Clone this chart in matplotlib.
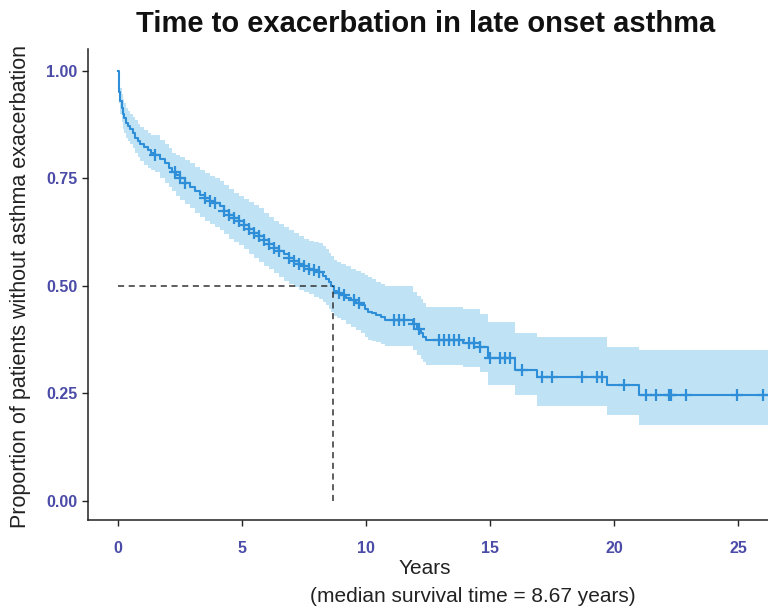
import numpy as np
import matplotlib
matplotlib.use("Agg")
import matplotlib.pyplot as plt

plt.rcParams['font.family'] = ['Liberation Sans', 'DejaVu Sans']

# Kaplan-Meier step curve (time in years, survival proportion) with 95% CI
times = [0, 0.03, 0.06, 0.1, 0.15, 0.2, 0.27, 0.35, 0.42, 0.5, 0.6, 0.7, 0.8, 0.9,
         1.05, 1.2, 1.35, 1.5, 1.7, 1.9, 2.05, 2.2, 2.35, 2.5, 2.7, 2.9, 3.1, 3.3,
         3.5, 3.7, 3.9, 4.1, 4.3, 4.5, 4.7, 4.9, 5.1, 5.3, 5.5, 5.7, 5.9, 6.1, 6.3,
         6.5, 6.7, 6.9, 7.1, 7.3, 7.5, 7.7, 7.9, 8.1, 8.25, 8.4, 8.5, 8.6, 8.7, 8.85,
         9.0, 9.2, 9.4, 9.6, 9.8, 9.95, 10.1, 10.25, 10.4, 10.6, 10.75, 11.9, 12.05,
         12.2, 12.3, 12.4, 13.9, 14.6, 14.9, 16.0, 16.9, 19.7, 21.0]
surv = [1.0, 0.97, 0.95, 0.93, 0.915, 0.90, 0.89, 0.88, 0.872, 0.865, 0.855, 0.845,
        0.838, 0.83, 0.822, 0.815, 0.81, 0.805, 0.795, 0.785, 0.775, 0.765, 0.758,
        0.75, 0.74, 0.73, 0.721, 0.712, 0.705, 0.698, 0.692, 0.685, 0.675, 0.665,
        0.658, 0.65, 0.641, 0.632, 0.624, 0.615, 0.607, 0.598, 0.589, 0.58, 0.573,
        0.565, 0.558, 0.55, 0.545, 0.54, 0.537, 0.533, 0.524, 0.515, 0.508, 0.50,
        0.487, 0.483, 0.478, 0.472, 0.467, 0.461, 0.455, 0.447, 0.44, 0.437, 0.433,
        0.427, 0.421, 0.41, 0.40, 0.39, 0.382, 0.374, 0.368, 0.358, 0.333, 0.305,
        0.288, 0.27, 0.247]
upper = [1.0, 0.99, 0.975, 0.96, 0.947, 0.935, 0.925, 0.915, 0.907, 0.90, 0.892,
         0.885, 0.877, 0.87, 0.862, 0.855, 0.852, 0.85, 0.84, 0.83, 0.82, 0.81, 0.805,
         0.80, 0.792, 0.785, 0.777, 0.77, 0.762, 0.755, 0.75, 0.745, 0.735, 0.725,
         0.717, 0.71, 0.702, 0.695, 0.687, 0.68, 0.67, 0.66, 0.652, 0.645, 0.637,
         0.63, 0.622, 0.615, 0.61, 0.605, 0.602, 0.60, 0.592, 0.585, 0.577, 0.57,
         0.56, 0.555, 0.55, 0.545, 0.54, 0.535, 0.53, 0.525, 0.52, 0.515, 0.51, 0.505,
         0.50, 0.485, 0.477, 0.47, 0.46, 0.45, 0.445, 0.435, 0.415, 0.39, 0.38,
         0.357, 0.35]
lower = [1.0, 0.95, 0.925, 0.90, 0.882, 0.865, 0.855, 0.845, 0.837, 0.83, 0.82,
         0.81, 0.80, 0.79, 0.782, 0.775, 0.77, 0.765, 0.752, 0.74, 0.73, 0.72, 0.71,
         0.70, 0.69, 0.68, 0.67, 0.66, 0.652, 0.645, 0.637, 0.63, 0.62, 0.61, 0.602,
         0.595, 0.585, 0.575, 0.565, 0.555, 0.547, 0.54, 0.53, 0.52, 0.512, 0.505,
         0.497, 0.49, 0.485, 0.48, 0.475, 0.47, 0.462, 0.455, 0.447, 0.44, 0.43,
         0.425, 0.42, 0.412, 0.405, 0.397, 0.39, 0.382, 0.375, 0.372, 0.37, 0.365,
         0.36, 0.35, 0.34, 0.33, 0.322, 0.315, 0.31, 0.30, 0.27, 0.245, 0.22, 0.20,
         0.177]
t_end = 26.2

# censoring times (+ marks)
censor_times = [1.5, 2.3, 2.5, 2.7, 3.5, 3.7, 3.9, 4.3, 4.5, 4.7, 4.9, 5.1, 5.3, 5.5,
                5.7, 5.9, 6.1, 6.3, 6.5, 6.9, 7.1, 7.3, 7.5, 7.7, 7.9, 8.1, 8.9, 9.1,
                9.5, 9.7, 11.15, 11.35, 11.55, 11.95, 12.15, 12.95, 13.15, 13.35,
                13.55, 13.75, 14.15, 14.35, 14.6, 15.0, 15.4, 15.6, 15.8, 16.3, 17.1,
                17.5, 18.7, 19.3, 19.5, 20.4, 21.3, 21.7, 22.2, 22.3, 22.9, 24.95, 26.0]

median_time = 8.67
yticks = [0.00, 0.25, 0.50, 0.75, 1.00]
xticks = [0, 5, 10, 15, 20, 25]

line_col = '#2E8FD8'
band_col = '#2E9FDF'
tick_col = '#4B4BA8'

fig = plt.figure(figsize=(7.68, 6.11), dpi=100)
ax = fig.add_axes([88/768, 1 - 520/611, 1 - 88/768, (520 - 49.5)/611])

t_ext = np.array(times + [t_end])
s_ext = np.array(surv + [surv[-1]])
u_ext = np.array(upper + [upper[-1]])
l_ext = np.array(lower + [lower[-1]])

ax.fill_between(t_ext, l_ext, u_ext, step='post', color=band_col, alpha=0.3, linewidth=0)
ax.step(t_ext, s_ext, where='post', color=line_col, lw=1.5)

idx = np.searchsorted(np.array(times), np.array(censor_times), side='right') - 1
cs = np.array(surv)[idx]
ax.plot(censor_times, cs, linestyle='none', marker='+', markersize=9, mew=1.6, color=line_col)

ax.plot([0, median_time], [0.5, 0.5], linestyle=(0, (4, 3)), color='#333333', lw=1.1)
ax.plot([median_time, median_time], [0, 0.5], linestyle=(0, (4, 3)), color='#333333', lw=1.1)

ax.set_xlim(-1.2, 26.2)
ax.set_ylim(-0.045, 1.05)
ax.set_xticks(xticks)
ax.set_yticks(yticks)
ax.set_xticklabels([str(x) for x in xticks])
ax.set_yticklabels([f'{y:.2f}' for y in yticks])
for s in ['top', 'right']:
    ax.spines[s].set_visible(False)
for s in ['left', 'bottom']:
    ax.spines[s].set_linewidth(1.1)
    ax.spines[s].set_color('#222222')
ax.tick_params(axis='both', direction='out', length=4, width=1, color='#222222',
               labelcolor=tick_col, labelsize=11.5)
for lab in ax.get_xticklabels() + ax.get_yticklabels():
    lab.set_fontweight('bold')
ax.tick_params(axis='x', pad=11)

fig.text(425/768, 1 - 569/611, 'Years', ha='center', va='center', fontsize=15,
         color='#222222')
fig.text(473/768, 1 - 596/611, '(median survival time = 8.67 years)', ha='center',
         va='center', fontsize=15, color='#222222')
fig.text(21/768, 1 - 287/611, 'Proportion of patients without asthma exacerbation',
         rotation=90, ha='center', va='center', fontsize=15.5, color='#222222')
fig.text(426/768, 1 - 24/611, 'Time to exacerbation in late onset asthma', ha='center',
         va='center', fontsize=21, fontweight='bold', color='#111111')

fig.savefig('out.png', dpi=100)
